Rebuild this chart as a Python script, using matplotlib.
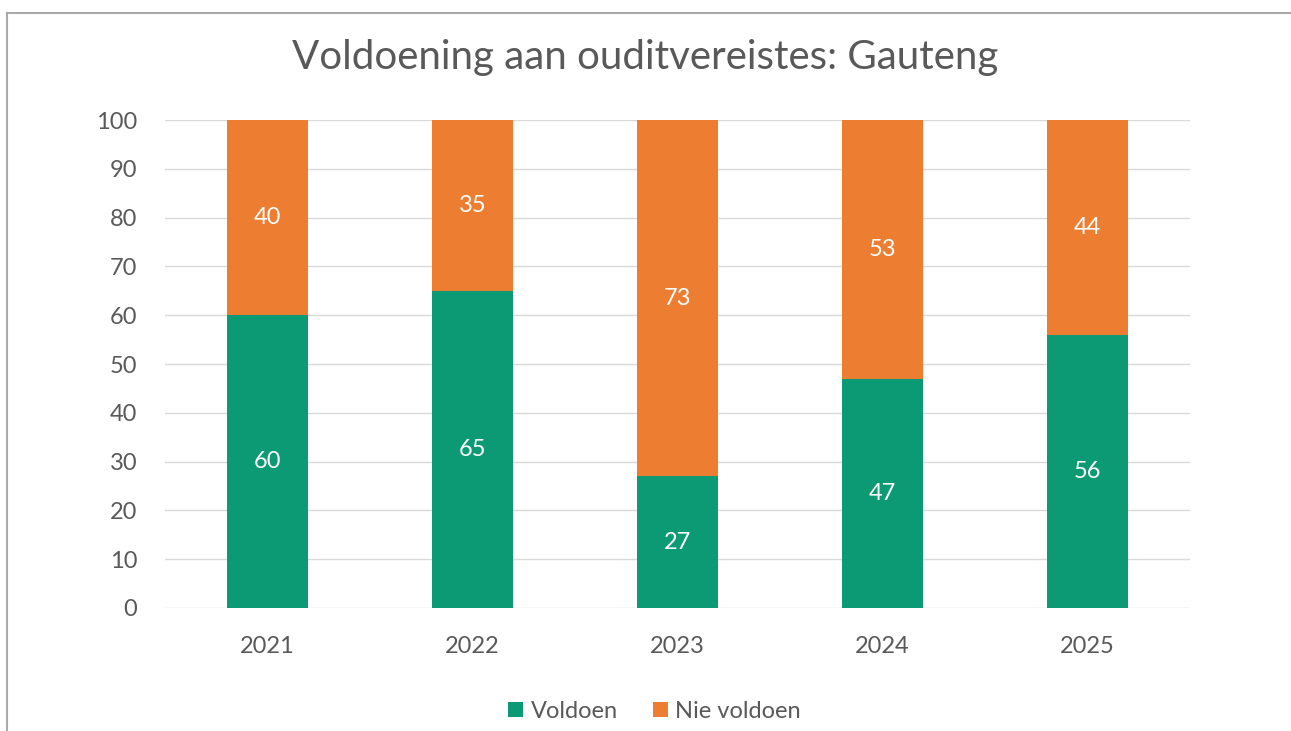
import matplotlib
matplotlib.use("Agg")
import matplotlib.pyplot as plt
from matplotlib.lines import Line2D

years = ["2021", "2022", "2023", "2024", "2025"]
voldoen = [60, 65, 27, 47, 56]
nie_voldoen = [40, 35, 73, 53, 44]

green = "#0b9a73"
orange = "#ed7d31"
grey_text = "#595959"

plt.rcParams["font.family"] = ["Lato", "DejaVu Sans"]

fig = plt.figure(figsize=(12.91, 7.31), dpi=100)
ax = fig.add_axes([0.1278, 0.1683, 0.794, 0.6675])

x = range(len(years))
width = 0.395
ax.bar(x, voldoen, width, color=green, label="Voldoen", zorder=3)
ax.bar(x, nie_voldoen, width, bottom=voldoen, color=orange, label="Nie voldoen", zorder=3)

# value labels in the middle of each segment
for i in x:
    ax.text(i, voldoen[i] / 2, str(voldoen[i]), ha="center", va="center",
            color="white", fontsize=17)
    ax.text(i, voldoen[i] + nie_voldoen[i] / 2, str(nie_voldoen[i]), ha="center",
            va="center", color="white", fontsize=17)

ax.set_xlim(-0.5, len(years) - 0.5)
ax.set_ylim(0, 100)
ax.set_yticks(range(0, 101, 10))
ax.set_xticks(list(x))
ax.set_xticklabels(years)
ax.yaxis.grid(True, color="#d9d9d9", linewidth=1, zorder=0)
for s in ax.spines.values():
    s.set_visible(False)
ax.tick_params(axis="both", length=0, labelsize=17, labelcolor=grey_text)
ax.tick_params(axis="y", pad=20)
ax.tick_params(axis="x", pad=20)

fig.text(0.5, 0.921, "Voldoening aan ouditvereistes: Gauteng", ha="center",
         va="center", fontsize=29, color=grey_text)

fig.legend(loc="center", bbox_to_anchor=(0.507, 0.027), ncol=2, frameon=False,
           fontsize=17, handlelength=0.65, handleheight=0.65, handletextpad=0.3,
           columnspacing=1.5, labelcolor=grey_text)

# outer frame lines (top and left)
fig.add_artist(Line2D([0.0054, 1.0], [0.982, 0.982], color="#aaaaaa", linewidth=1.5))
fig.add_artist(Line2D([0.0054, 0.0054], [0.0, 0.982], color="#aaaaaa", linewidth=1.5))

fig.savefig("out.png", dpi=100)
